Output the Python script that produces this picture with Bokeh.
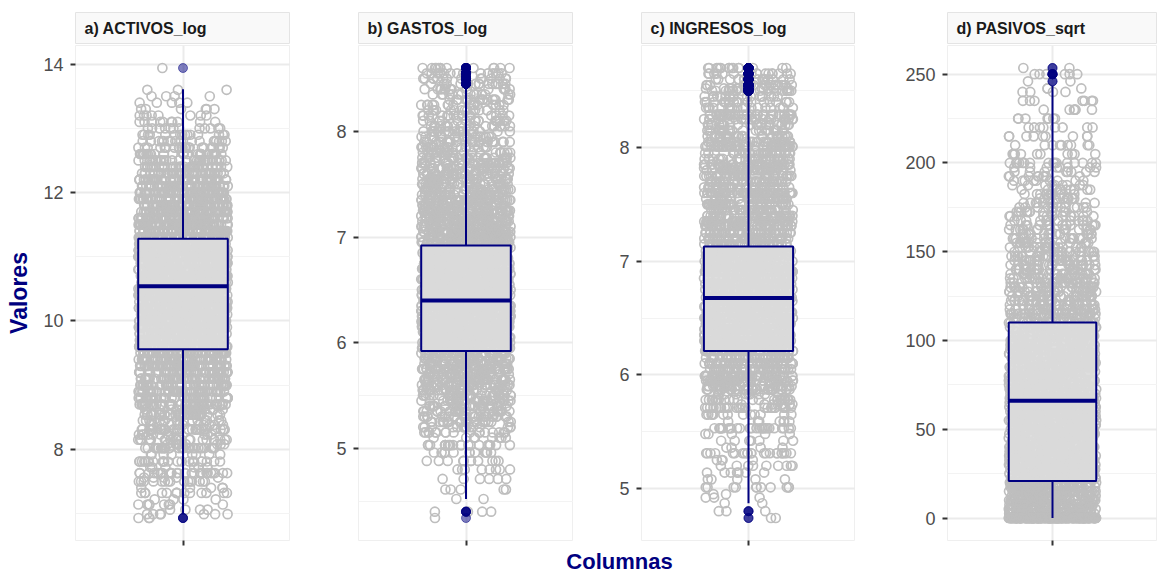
import math

from bokeh.plotting import figure
from bokeh.layouts import row, column
from bokeh.models import Range1d, FixedTicker
from bokeh.core.properties import value
from bokeh.embed import file_html
from bokeh.resources import INLINE

FUENTE = "Liberation Sans"
AZUL = "#000080"

titulos = ["a) ACTIVOS_log", "b) GASTOS_log", "c) INGRESOS_log", "d) PASIVOS_sqrt"]

# Valores observados (nivel) y cuántas observaciones caen en cada nivel
activos_niveles = [13.94, 13.6, 13.5, 13.4, 13.3, 13.2, 13.1, 13.0, 12.9, 12.8, 12.7, 12.6,
                   12.5, 12.4, 12.3, 12.2, 12.1, 12.0, 11.9, 11.8, 11.7, 11.6, 11.5, 11.4,
                   11.3, 11.2, 11.1, 11.0, 10.9, 10.8, 10.7, 10.6, 10.5, 10.4, 10.3, 10.2,
                   10.1, 10.0, 9.9, 9.8, 9.7, 9.6, 9.5, 9.4, 9.3, 9.2, 9.1, 9.0, 8.9, 8.8,
                   8.70, 8.62, 8.54, 8.45, 8.38, 8.31, 8.23, 8.15, 8.08, 8.02, 7.92, 7.81,
                   7.72, 7.63, 7.56, 7.50, 7.40, 7.32, 7.22, 7.14, 7.06, 6.99, 6.93]
activos_conteos = [1, 3, 4, 5, 6, 8, 10, 12, 15, 18, 22, 26,
                   31, 36, 42, 48, 54, 60, 66, 72, 77, 81, 85, 88,
                   90, 92, 93, 94, 95, 95, 94, 93, 91, 89, 86, 83,
                   80, 77, 74, 71, 68, 65, 62, 59, 56, 53, 50, 47, 44, 41,
                   44, 18, 36, 15, 13, 36, 10, 24, 9, 30, 8, 22,
                   7, 28, 5, 15, 5, 14, 4, 8, 4, 7, 3]

gastos_niveles = [8.60, 8.55, 8.50, 8.45, 8.40, 8.35, 8.30,
                  8.25, 8.20, 8.15, 8.10, 8.05, 8.00, 7.95, 7.90, 7.85, 7.80,
                  7.75, 7.70, 7.65, 7.60, 7.55, 7.50, 7.45, 7.40, 7.35, 7.30,
                  7.25, 7.20, 7.15, 7.10, 7.05, 7.00, 6.95, 6.90, 6.85, 6.80,
                  6.75, 6.70, 6.65, 6.60, 6.55, 6.50, 6.45, 6.40, 6.35, 6.30,
                  6.25, 6.20, 6.15, 6.10, 6.05, 6.00, 5.95, 5.90, 5.85, 5.80,
                  5.75, 5.70, 5.65, 5.60, 5.55, 5.50, 5.45, 5.40, 5.35, 5.30,
                  5.25, 5.20, 5.15, 5.10,
                  5.03, 4.96, 4.88, 4.80, 4.71, 4.61, 4.52, 4.40, 4.34]
gastos_conteos = [13, 14, 14, 14, 14, 15, 15,
                  16, 16, 17, 17, 18, 19, 20, 22, 24, 26,
                  28, 30, 32, 34, 36, 38, 40, 42, 44, 46,
                  48, 50, 52, 54, 55, 56, 57, 58, 59, 60,
                  60, 61, 61, 62, 62, 62, 62, 61, 61, 60,
                  59, 58, 57, 56, 54, 52, 50, 48, 46, 44,
                  42, 40, 38, 36, 34, 32, 30, 28, 26, 24,
                  20, 15, 17, 8,
                  20, 13, 11, 8, 6, 5, 2, 4, 1]

ingresos_niveles = [8.70, 8.65, 8.60, 8.55, 8.52, 8.50, 8.45, 8.40, 8.35, 8.29,
                    8.25, 8.20, 8.15, 8.10, 8.05, 8.01, 7.95, 7.90, 7.85, 7.82,
                    7.80, 7.75, 7.70, 7.65, 7.60, 7.55, 7.50, 7.45, 7.40, 7.35,
                    7.31, 7.25, 7.20, 7.15, 7.09, 7.05, 7.00, 6.95, 6.91, 6.85,
                    6.80, 6.75, 6.68, 6.65, 6.60, 6.55, 6.50, 6.45, 6.40, 6.35,
                    6.30, 6.25, 6.21, 6.15, 6.10, 6.05, 5.99, 5.95, 5.90, 5.87,
                    5.83, 5.78, 5.74, 5.71, 5.65, 5.59, 5.53, 5.48, 5.42, 5.36,
                    5.31, 5.25, 5.20, 5.14, 5.08, 5.01, 4.95, 4.92, 4.87, 4.80, 4.74]
ingresos_conteos = [15, 16, 17, 17, 12, 17, 18, 19, 20, 34,
                    22, 23, 24, 26, 27, 52, 30, 31, 32, 22,
                    33, 34, 35, 36, 62, 38, 39, 40, 41, 42,
                    64, 44, 45, 46, 60, 47, 48, 49, 75, 50,
                    51, 52, 66, 52, 52, 68, 52, 52, 70, 51,
                    50, 49, 72, 46, 44, 42, 68, 34, 30, 30,
                    10, 26, 8, 26, 13, 7, 26, 5, 7, 4,
                    22, 4, 9, 7, 5, 11, 2, 3, 2, 3, 2]

pasivos_niveles = [253.5, 250, 246, 242, 240, 235, 230, 225, 220, 215, 210, 205, 200,
                   197.5, 195, 192.5, 190, 187.5, 185, 182.5, 180, 177.5, 175,
                   172.5, 170, 167.5, 165, 162.5, 160, 157.5, 155, 152.5, 150,
                   147.5, 145, 142.5, 140, 137.5, 135, 132.5, 130, 127.5, 125,
                   122.5, 120, 117.5, 115, 112.5, 110, 107.5, 105, 102.5, 100,
                   97.5, 95, 92.5, 90, 87.5, 85, 82.5, 80, 77.5, 75,
                   72.5, 70, 67.5, 65, 62.5, 60, 57.5, 55, 52.5, 50,
                   47.5, 45, 42.5, 40, 37.5, 35, 32.5, 30, 27.5, 25,
                   22.5, 20, 17.5, 15, 12.5, 10, 7.5, 5, 2.5, 0]
pasivos_conteos = [2, 6, 2, 3, 4, 7, 6, 7, 8, 9, 9, 10, 16,
                   8, 8, 9, 9, 9, 10, 10, 11, 11, 12,
                   13, 12, 13, 14, 15, 16, 17, 17, 18, 19,
                   20, 21, 21, 22, 22, 23, 24, 24, 25, 25,
                   26, 26, 27, 28, 29, 30, 31, 32, 32, 33,
                   34, 35, 35, 36, 37, 37, 38, 38, 39, 40,
                   40, 40, 41, 42, 42, 43, 44, 44, 45, 45,
                   46, 47, 47, 48, 49, 49, 50, 51, 51, 52,
                   52, 54, 52, 55, 51, 53, 56, 54, 58, 300]

niveles = [activos_niveles, gastos_niveles, ingresos_niveles, pasivos_niveles]
conteos = [activos_conteos, gastos_conteos, ingresos_conteos, pasivos_conteos]

# Estadísticos de cada caja
cuartil_1 = [9.56, 5.92, 6.21, 20.8]
mediana = [10.54, 6.40, 6.675, 66.0]
cuartil_3 = [11.28, 6.92, 7.13, 110.2]
bigote_inf = [6.99, 4.52, 4.87, 0.0]
bigote_sup = [13.61, 8.42, 8.47, 243.5]

marcas_y = [[8, 10, 12, 14], [5, 6, 7, 8], [5, 6, 7, 8], [0, 50, 100, 150, 200, 250]]
marcas_menores = [[7, 9, 11, 13], [4.5, 5.5, 6.5, 7.5, 8.5], [5.5, 6.5, 7.5, 8.5],
                  [25, 75, 125, 175, 225]]

# Geometría de cada panel (px)
BORDE_IZQ = [75, 68, 68, 92]
ANCHO_MARCO = [215, 215, 214, 210]
ALTO_TIRA = 44
ALTO_PANEL = 502
ALTO_PIE = 26
ANCHO_JITTER = 0.25
GRIS_MAYOR = "#ebebeb"
GRIS_MENOR = "#f3f3f3"


def desplazamiento(n):
    """Desplazamiento horizontal determinista en [0, 1) para la observación n."""
    return (math.sin(n * 12.9898 + 78.233) * 43758.5453) % 1.0


def dispersar(nivs, cnts, semilla):
    """Reparte horizontalmente las observaciones de cada nivel (jitter)."""
    xs, ys = [], []
    n = semilla
    for nv, c in zip(nivs, cnts):
        for _ in range(c):
            u = desplazamiento(n)
            n += 1
            xs.append(1.0 + (2.0 * u - 1.0) * ANCHO_JITTER)
            ys.append(nv)
    return xs, ys


def tira(i):
    w = BORDE_IZQ[i] + ANCHO_MARCO[i]
    s = figure(width=w, height=ALTO_TIRA, x_range=Range1d(0, 1), y_range=Range1d(0, 1),
               x_axis_type=None, y_axis_type=None, output_backend="svg",
               toolbar_location=None, min_border_left=BORDE_IZQ[i], min_border_right=0,
               min_border_top=12, min_border_bottom=0)
    s.grid.visible = False
    s.background_fill_color = "#f9f9f9"
    s.border_fill_color = "white"
    s.outline_line_color = "#e4e4e4"
    s.text(x=[0], y=[0.5], text=[titulos[i]], x_offset=9, text_align="left",
           text_baseline="middle", text_font=value(FUENTE), text_font_style="bold",
           text_font_size="16px", text_color="#1a1a1a")
    return s


def panel(i):
    xs, ys = dispersar(niveles[i], conteos[i], 1000 + 20000 * i)
    lo, hi = min(ys), max(ys)
    pad = 0.05 * (hi - lo)
    w = BORDE_IZQ[i] + ANCHO_MARCO[i]
    p = figure(width=w, height=ALTO_PANEL, x_range=Range1d(0.4, 1.6),
               y_range=Range1d(lo - pad, hi + pad), output_backend="svg",
               toolbar_location=None, min_border_left=BORDE_IZQ[i], min_border_right=0,
               min_border_top=1, min_border_bottom=6)
    p.background_fill_color = "white"
    p.border_fill_color = "white"
    p.outline_line_color = "#efefef"

    p.yaxis.ticker = FixedTicker(ticks=marcas_y[i], minor_ticks=marcas_menores[i])
    p.xaxis.ticker = FixedTicker(ticks=[1])
    p.xaxis.major_label_overrides = {1: ""}
    for ax in (p.xaxis, p.yaxis):
        ax.axis_line_color = None
        ax.major_tick_line_color = "#333333"
        ax.major_tick_line_width = 2
        ax.major_tick_out = 5
        ax.major_tick_in = 0
        ax.minor_tick_line_color = None
        ax.major_label_text_font = FUENTE
        ax.major_label_text_color = "#4d4d4d"
    p.yaxis.major_label_text_font_size = "18px"
    p.yaxis.major_label_standoff = 7
    p.xaxis.major_label_text_font_size = "1px"
    p.xaxis.major_label_standoff = 0

    p.ygrid.grid_line_color = GRIS_MAYOR
    p.ygrid.grid_line_width = 2
    p.ygrid.minor_grid_line_color = GRIS_MENOR
    p.ygrid.minor_grid_line_width = 1
    p.xgrid.grid_line_color = GRIS_MAYOR
    p.xgrid.grid_line_width = 2

    if i == 0:
        p.yaxis.axis_label = "Valores"
        p.yaxis.axis_label_text_font = FUENTE
        p.yaxis.axis_label_text_font_style = "bold"
        p.yaxis.axis_label_text_font_size = "23px"
        p.yaxis.axis_label_text_color = AZUL
        p.yaxis.axis_label_standoff = 8

    # nube de observaciones
    p.scatter(xs, ys, size=9, marker="circle", fill_color=None,
              line_color="#bebebe", line_alpha=1.0, line_width=1.7)

    # bigotes, caja y mediana
    p.segment(x0=[1, 1], y0=[cuartil_3[i], cuartil_1[i]], x1=[1, 1],
              y1=[bigote_sup[i], bigote_inf[i]], line_color=AZUL, line_width=2)
    p.quad(left=[0.75], right=[1.25], bottom=[cuartil_1[i]], top=[cuartil_3[i]],
           fill_color="#dcdcdc", fill_alpha=0.93, line_color=AZUL, line_width=2)
    p.segment(x0=[0.75], y0=[mediana[i]], x1=[1.25], y1=[mediana[i]],
              line_color=AZUL, line_width=4)

    # valores atípicos
    atipicos = [y for y in ys if y > bigote_sup[i] or y < bigote_inf[i]]
    p.scatter([1] * len(atipicos), atipicos, size=9, marker="circle",
              fill_color=AZUL, fill_alpha=0.5, line_color=AZUL, line_alpha=0.5)
    return p


columnas = [column(tira(i), panel(i)) for i in range(4)]

pie = figure(width=1157, height=ALTO_PIE, x_range=Range1d(0, 1157), y_range=Range1d(0, ALTO_PIE),
             x_axis_type=None, y_axis_type=None, output_backend="svg",
             toolbar_location=None, min_border=0)
pie.grid.visible = False
pie.outline_line_color = None
pie.border_fill_color = "white"
pie.text(x=[619], y=[11.5], text=["Columnas"], text_align="center", text_baseline="middle",
         text_font=value(FUENTE), text_font_style="bold", text_font_size="22px",
         text_color=AZUL)

p = column(row(*columnas), pie)

open("out.html", "w").write(file_html(p, INLINE))
